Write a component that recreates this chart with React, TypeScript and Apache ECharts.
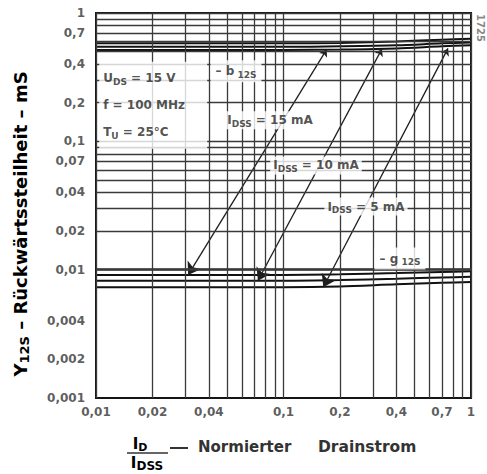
import React, { useEffect, useRef } from 'react';
import * as echarts from 'echarts';

// ---- data ----
const xPoints = [0.01, 0.02, 0.04, 0.1, 0.2, 0.4, 0.7, 1];
const b15 = [0.58, 0.58, 0.58, 0.58, 0.585, 0.6, 0.62, 0.63];
const b10 = [0.545, 0.545, 0.545, 0.545, 0.55, 0.56, 0.58, 0.59];
const b5 = [0.515, 0.515, 0.515, 0.515, 0.52, 0.53, 0.55, 0.56];
const g15 = [0.0091, 0.0091, 0.0091, 0.0091, 0.0092, 0.0094, 0.0096, 0.0097];
const g10 = [0.0082, 0.0082, 0.0082, 0.0082, 0.0083, 0.0085, 0.0087, 0.0088];
const g5 = [0.0073, 0.0073, 0.0073, 0.0073, 0.0074, 0.0077, 0.0079, 0.008];

const xTickLabels = [0.01, 0.02, 0.04, 0.1, 0.2, 0.4, 0.7, 1];
const yTickLabels = [0.001, 0.002, 0.004, 0.01, 0.02, 0.04, 0.07, 0.1, 0.2, 0.4, 0.7, 1];

const xGridLines = [
  0.01, 0.02, 0.03, 0.04, 0.05, 0.06, 0.07, 0.08, 0.09,
  0.1, 0.2, 0.3, 0.4, 0.5, 0.6, 0.7, 0.8, 0.9, 1,
];
const yGridLines = [
  0.001, 0.002, 0.003, 0.004, 0.005, 0.006, 0.007, 0.008, 0.009,
  0.01, 0.02, 0.03, 0.04, 0.05, 0.06, 0.07, 0.08, 0.09,
  0.1, 0.2, 0.3, 0.4, 0.5, 0.6, 0.7, 0.8, 0.9, 1,
];

// arrows: [top point on -b curves], [bottom point on -g curves]
const arrowIdss15 = [[0.17, 0.52], [0.031, 0.0091]];
const arrowIdss10 = [[0.335, 0.525], [0.073, 0.0082]];
const arrowIdss5 = [[0.754, 0.53], [0.163, 0.0073]];

const FONT = 'DejaVu Sans';
const INK = '#262626';
const GRIDC = '#3a3a3a';

const fmt = (v: number) => String(v).replace('.', ',');

const richBase = {
  n: { fontSize: 12, fontWeight: 'bold', fontFamily: FONT, color: INK, lineHeight: 16 },
  s: { fontSize: 9, fontWeight: 'bold', fontFamily: FONT, color: INK, lineHeight: 16, padding: [7, 0, 0, 0] },
};

const richBox = {
  n: { fontSize: 12, fontWeight: 'bold', fontFamily: FONT, color: INK, lineHeight: 27 },
  s: { fontSize: 9, fontWeight: 'bold', fontFamily: FONT, color: INK, lineHeight: 27, padding: [7, 0, 0, 0] },
};

function pair(xs: number[], ys: number[]) {
  return xs.map((x, i) => [x, ys[i]]);
}

export default function App() {
  const ref = useRef<HTMLDivElement>(null);
  useEffect(() => {
    if (!ref.current) return;
    const chart = echarts.init(ref.current, undefined, { renderer: 'svg' });

    const curve = (name: string, ys: number[]) => ({
      name,
      type: 'line',
      data: pair(xPoints, ys),
      showSymbol: false,
      symbol: 'none',
      smooth: 0.3,
      z: 3,
      lineStyle: { color: '#111', width: 2 },
    });

    const annot = (x: number, y: number, text: string, position: any = 'inside', extra: any = {}) => ({
      value: [x, y],
      label: {
        show: true,
        position,
        formatter: text,
        rich: richBase,
        backgroundColor: '#fff',
        padding: [1, 3, 1, 3],
        ...extra,
      },
    });

    const option: any = {
      animation: false,
      backgroundColor: '#fff',
      grid: {
        left: 96, right: 16, top: 13, bottom: 76,
        show: true, borderColor: '#151515', borderWidth: 2, backgroundColor: 'transparent',
      },
      xAxis: {
        type: 'log', logBase: 10, min: 0.01, max: 1,
        axisLine: { show: false }, axisTick: { show: false },
        axisLabel: { show: false }, splitLine: { show: false },
      },
      yAxis: {
        type: 'log', logBase: 10, min: 0.001, max: 1,
        axisLine: { show: false }, axisTick: { show: false },
        axisLabel: { show: false }, splitLine: { show: false },
      },
      series: [
        {
          name: 'grid',
          type: 'line',
          data: [],
          z: 1,
          silent: true,
          markLine: {
            silent: true,
            symbol: ['none', 'none'],
            label: { show: false },
            lineStyle: { color: GRIDC, width: 1.3, type: 'solid' },
            data: [
              ...xGridLines.map((v) => ({ xAxis: v })),
              ...yGridLines.map((v) => ({ yAxis: v })),
            ],
          },
        },
        curve('-b12s 15 mA', b15),
        curve('-b12s 10 mA', b10),
        curve('-b12s 5 mA', b5),
        curve('-g12s 15 mA', g15),
        curve('-g12s 10 mA', g10),
        curve('-g12s 5 mA', g5),
        {
          name: 'arrows',
          type: 'lines',
          coordinateSystem: 'cartesian2d',
          z: 4,
          symbol: ['arrow', 'arrow'],
          symbolSize: [7, 12],
          lineStyle: { color: '#1e1e1e', width: 1.3, opacity: 1, curveness: 0 },
          data: [
            { coords: arrowIdss15 },
            { coords: arrowIdss10 },
            { coords: arrowIdss5 },
          ],
        },
        {
          name: 'annotations',
          type: 'scatter',
          symbolSize: 0,
          clip: false,
          z: 5,
          silent: true,
          data: [
            annot(0.0847, 0.146, '{n|I}{s|DSS}{n| = 15 mA}'),
            annot(0.149, 0.0649, '{n|I}{s|DSS}{n| = 10 mA}'),
            annot(0.2754, 0.031, '{n|I}{s|DSS}{n| = 5 mA}'),
            annot(0.0558, 0.352, '{n|– b}{s| 12S}', 'inside', { padding: [3, 5, 3, 5] }),
            annot(0.418, 0.0122, '{n|– g}{s| 12S}', 'inside', { padding: [3, 5, 3, 5] }),
            annot(
              0.0104,
              0.191,
              '{n|U}{s|DS}{n| = 15 V}\n{n|f = 100 MHz}\n{n|T}{s|U}{n| = 25°C}',
              'right',
              { distance: 0, rich: richBox, width: 100, padding: [3, 4, 3, 4] }
            ),
          ],
        },
        {
          name: 'xTicks',
          type: 'scatter',
          symbolSize: 0,
          clip: false,
          silent: true,
          z: 5,
          data: xTickLabels.map((v) => [v, 0.001]),
          label: {
            show: true,
            position: 'bottom',
            distance: 8,
            fontFamily: FONT,
            fontSize: 12,
            fontWeight: 'bold',
            color: '#333',
            formatter: (p: any) => fmt(p.value[0]),
          },
        },
        {
          name: 'yTicks',
          type: 'scatter',
          symbolSize: 0,
          clip: false,
          silent: true,
          z: 5,
          data: yTickLabels.map((v) => [0.01, v]),
          label: {
            show: true,
            position: 'left',
            distance: 11,
            fontFamily: FONT,
            fontSize: 12,
            fontWeight: 'bold',
            color: '#333',
            formatter: (p: any) => fmt(p.value[1]),
          },
        },
      ],
      graphic: [
        {
          type: 'text',
          x: 20,
          y: 224,
          rotation: Math.PI / 2,
          style: {
            text: '{a|Y}{b|12S}{a| – Rückwärtssteilheit – mS}',
            align: 'center',
            verticalAlign: 'middle',
            rich: {
              a: { fontSize: 18, fontWeight: 'bold', fontFamily: FONT, color: '#333', lineHeight: 22 },
              b: { fontSize: 13, fontWeight: 'bold', fontFamily: FONT, color: '#333', lineHeight: 22, padding: [9, 0, 0, 0] },
            },
          },
        },
        {
          type: 'text',
          x: 140,
          y: 444,
          style: {
            text: '{a|I}{b|D}',
            align: 'center',
            verticalAlign: 'middle',
            rich: {
              a: { fontSize: 15, fontWeight: 'bold', fontFamily: FONT, color: '#333', lineHeight: 18 },
              b: { fontSize: 11, fontWeight: 'bold', fontFamily: FONT, color: '#333', lineHeight: 18, padding: [7, 0, 0, 0] },
            },
          },
        },
        {
          type: 'line',
          shape: { x1: 127, y1: 453, x2: 168, y2: 453 },
          style: { stroke: '#333', lineWidth: 1.5 },
        },
        {
          type: 'text',
          x: 147,
          y: 463,
          style: {
            text: '{a|I}{b|DSS}',
            align: 'center',
            verticalAlign: 'middle',
            rich: {
              a: { fontSize: 15, fontWeight: 'bold', fontFamily: FONT, color: '#333', lineHeight: 18 },
              b: { fontSize: 12, fontWeight: 'bold', fontFamily: FONT, color: '#333', lineHeight: 18, padding: [6, 0, 0, 0] },
            },
          },
        },
        {
          type: 'line',
          shape: { x1: 170, y1: 448, x2: 188, y2: 448 },
          style: { stroke: '#333', lineWidth: 2 },
        },
        {
          type: 'text',
          x: 198,
          y: 447,
          style: { text: 'Normierter', fontSize: 15, fontWeight: 'bold', fontFamily: FONT, fill: '#333', align: 'left', verticalAlign: 'middle' },
        },
        {
          type: 'text',
          x: 318,
          y: 447,
          style: { text: 'Drainstrom', fontSize: 15.5, fontWeight: 'bold', fontFamily: FONT, fill: '#333', align: 'left', verticalAlign: 'middle' },
        },
        {
          type: 'text',
          x: 480,
          y: 28,
          rotation: -Math.PI / 2,
          style: {
            text: '1725',
            fontSize: 10,
            fontWeight: 'bold',
            fontFamily: FONT,
            fill: '#888',
            align: 'center',
            verticalAlign: 'middle',
          },
        },
      ],
    };

    chart.setOption(option);
    return () => chart.dispose();
  }, []);

  return (
    <div
      ref={ref}
      style={{ position: 'absolute', left: 0, top: 0, width: 487, height: 474 }}
    />
  );
}
